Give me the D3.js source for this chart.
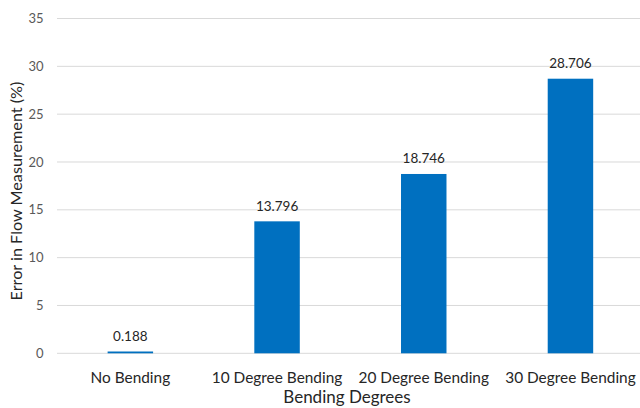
<!DOCTYPE html>
<html><head><meta charset="utf-8">
<script src="https://cdn.jsdelivr.net/npm/d3@7"></script>
<style>html,body{margin:0;padding:0;background:#fff;overflow:hidden}</style>
</head><body>
<svg id="c" width="640" height="408"></svg>
<script>
const categories = ["No Bending","10 Degree Bending","20 Degree Bending","30 Degree Bending"];
const values = [0.188, 13.796, 18.746, 28.706];
const yTicks = [0,5,10,15,20,25,30,35];
const xTitle = "Bending Degrees";
const yTitle = "Error in Flow Measurement (%)";

(function(){
const svg = d3.select("#c");
const font = "Lato, 'Open Sans', sans-serif";
const pLeft = 57, pRight = 643.8, pTop = 18.5, pBottom = 353.3;

const x = d3.scaleBand().domain(categories).range([pLeft, pRight]).paddingInner(0.69).paddingOuter(0.345);
const y = d3.scaleLinear().domain([0,35]).range([pBottom, pTop]);

svg.append("g").selectAll("line").data(yTicks).join("line")
  .attr("x1", pLeft).attr("x2", 640)
  .attr("y1", d => y(d)).attr("y2", d => y(d))
  .attr("stroke", "#d9d9d9").attr("stroke-width", 1);

svg.append("g").selectAll("text").data(yTicks).join("text")
  .attr("x", 43.5).attr("y", d => y(d)).attr("dy", "0.35em")
  .attr("text-anchor", "end").attr("font-family", font).attr("font-size", 13)
  .attr("fill", "#595959").text(d => d);

svg.append("g").selectAll("rect").data(values).join("rect")
  .attr("x", (d,i) => x(categories[i])).attr("width", x.bandwidth())
  .attr("y", d => y(d)).attr("height", d => y(0) - y(d))
  .attr("fill", "#0070c0");

svg.append("g").selectAll("text").data(values).join("text")
  .attr("x", (d,i) => x(categories[i]) + x.bandwidth()/2)
  .attr("y", d => y(d) - 10.5)
  .attr("text-anchor", "middle").attr("font-family", font).attr("font-size", 13.5)
  .attr("fill", "#262626").text(d => d.toFixed(3));

svg.append("g").selectAll("text").data(categories).join("text")
  .attr("x", d => x(d) + x.bandwidth()/2).attr("y", 382.5)
  .attr("text-anchor", "middle").attr("font-family", font).attr("font-size", 15.4)
  .attr("fill", "#262626").text(d => d);

svg.append("text").attr("x", 347).attr("y", 402.5).attr("text-anchor", "middle")
  .attr("font-family", font).attr("font-size", 17).attr("fill", "#262626").text(xTitle);
svg.append("text").attr("transform", "translate(22,191) rotate(-90)").attr("text-anchor", "middle")
  .attr("font-family", font).attr("font-size", 16.2).attr("fill", "#262626").text(yTitle);
})();
</script>
</body></html>
